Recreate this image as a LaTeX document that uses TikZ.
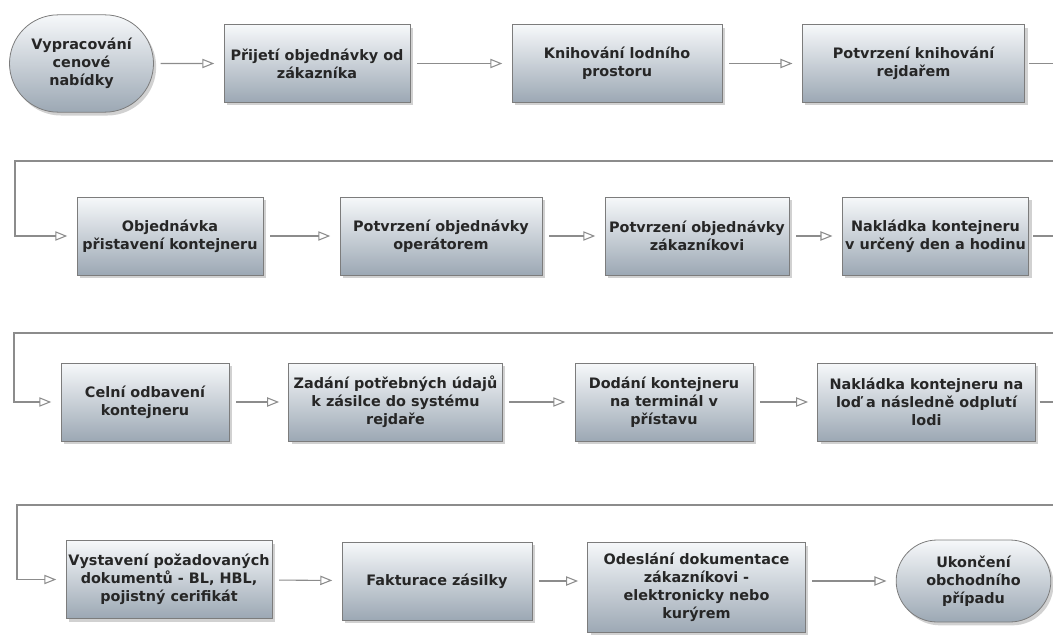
\documentclass[tikz,border=0pt]{standalone}
\usepackage{fontspec}
\setmainfont{DejaVu Sans}
\usepackage{xcolor}
\usetikzlibrary{arrows.meta,shadows,shapes.misc}

\definecolor{boxtop}{HTML}{F6F8FA}
\definecolor{boxbot}{HTML}{9CA8B4}
\definecolor{boxline}{HTML}{7C7C7C}
\definecolor{flowline}{HTML}{8C8C8C}
\definecolor{boxtext}{HTML}{262626}

\tikzset{
  stepnode/.style={draw=boxline,line width=0.6pt,top color=boxtop,bottom color=boxbot,
    drop shadow={shadow xshift=2pt,shadow yshift=-2.5pt,opacity=0.3,fill=black!60},
    align=center,text=boxtext,font=\fontsize{10.8}{13.6}\selectfont\bfseries,inner sep=1pt},
  endnode/.style={stepnode,rounded rectangle},
  flow/.style={draw=flowline,line width=0.8pt,shorten <=5pt,shorten >=7pt,
    -{Triangle[open,length=9pt,width=7pt]}}
}

\begin{document}
\begin{tikzpicture}[x=0.75pt,y=-0.75pt]
\useasboundingbox (0,0) rectangle (1053,635);

% Row 1
\node[endnode,minimum width=110pt,minimum height=73pt] (s1) at (81.5,63.5) {Vypracování\\cenové\\nabídky};
\node[stepnode,minimum width=139.5pt,minimum height=58pt] (s2) at (317,63.5) {Přijetí objednávky od\\zákazníka};
\node[stepnode,minimum width=157.5pt,minimum height=58pt] (s3) at (617,63.5) {Knihování lodního\\prostoru};
\node[stepnode,minimum width=167pt,minimum height=58pt] (s4) at (913.5,63.5) {Potvrzení knihování\\rejdařem};

% Row 2
\node[stepnode,minimum width=139.5pt,minimum height=58.5pt] (s5) at (170,236) {Objednávka\\přistavení kontejneru};
\node[stepnode,minimum width=151.5pt,minimum height=58.5pt] (s6) at (441,236) {Potvrzení objednávky\\operátorem};
\node[stepnode,minimum width=138pt,minimum height=58.5pt] (s7) at (697,236) {Potvrzení objednávky\\zákazníkovi};
\node[stepnode,minimum width=140pt,minimum height=58.5pt] (s8) at (935.5,236) {Nakládka kontejneru\\v určený den a hodinu};

% Row 3
\node[stepnode,minimum width=126pt,minimum height=58.5pt] (s9) at (145,402) {Celní odbavení\\kontejneru};
\node[stepnode,minimum width=160pt,minimum height=58.5pt] (s10) at (395.5,402) {Zadání potřebných údajů\\k zásilce do systému\\rejdaře};
\node[stepnode,minimum width=133.5pt,minimum height=58.5pt] (s11) at (664,402) {Dodání kontejneru\\na terminál v\\přístavu};
\node[stepnode,minimum width=163pt,minimum height=58.5pt] (s12) at (926.5,402) {Nakládka kontejneru na\\loď a následně odplutí\\lodi};

% Row 4
\node[stepnode,minimum width=154.5pt,minimum height=58pt] (s13) at (169,579.5) {Vystavení požadovaných\\dokumentů - BL, HBL,\\pojistný cerifikát};
\node[stepnode,minimum width=142.5pt,minimum height=58.5pt] (s14) at (437,581) {Fakturace zásilky};
\node[stepnode,minimum width=163pt,minimum height=68pt] (s15) at (696.5,587.5) {Odeslání dokumentace\\zákazníkovi -\\elektronicky nebo\\kurýrem};
\node[endnode,minimum width=118pt,minimum height=61.5pt] (s16) at (973.5,581) {Ukončení\\obchodního\\případu};

% turning points of the return lines
\coordinate (rgt) at (1065,0);
\coordinate (t1) at (15,161);
\coordinate (t2) at (14,333);
\coordinate (t3) at (17,505);

\draw[flow] (s1) -- (s2);
\draw[flow] (s2) -- (s3);
\draw[flow] (s3) -- (s4);
\draw[flow,shorten <=3pt] (s4.east) -- (s4.east -| rgt) |- (t1) |- (s5.west);
\draw[flow] (s5) -- (s6);
\draw[flow] (s6) -- (s7);
\draw[flow] (s7) -- (s8);
\draw[flow,shorten <=3pt] (s8.east) -- (s8.east -| rgt) |- (t2) |- (s9.west);
\draw[flow] (s9) -- (s10);
\draw[flow] (s10) -- (s11);
\draw[flow] (s11) -- (s12);
\draw[flow,shorten <=3pt] (s12.east) -- (s12.east -| rgt) |- (t3) |- (s13.west);
\draw[flow] (s13) -- (s14);
\draw[flow] (s14.east) -- (s14.east -| s15.west);
\draw[flow] (s15.east |- s16.west) -- (s16.west);
\end{tikzpicture}
\end{document}
